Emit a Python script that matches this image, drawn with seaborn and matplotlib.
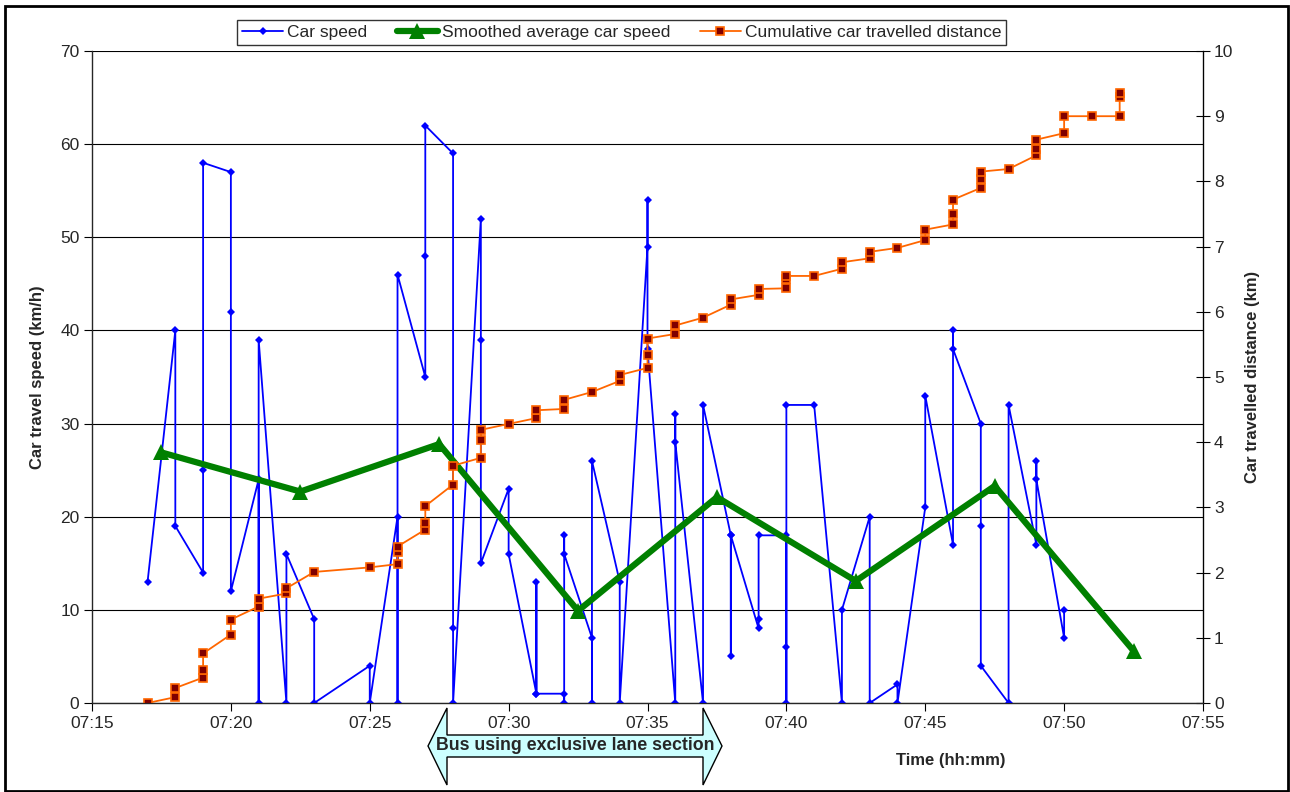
import numpy as np
import pandas as pd
import matplotlib
matplotlib.use('Agg')
import matplotlib.pyplot as plt
from matplotlib.patches import Polygon, Rectangle
from matplotlib.ticker import FuncFormatter, MultipleLocator
import seaborn as sns

sns.set_style("white")
plt.rcParams['font.family'] = ['Liberation Sans', 'DejaVu Sans']

# minute after 07:00 -> readings taken during that minute (in order)
speed_minutes = [17, 18, 19, 20, 21, 22, 23, 25, 26, 27, 28, 29, 30, 31, 32, 33, 34,
                 35, 36, 37, 38, 39, 40, 41, 42, 43, 44, 45, 46, 47, 48, 49, 50]
speed_values = [[13], [40, 19], [14, 25, 58], [57, 42, 12], [24, 0, 39], [0, 16], [9, 0],
                [4, 0], [20, 0, 46], [35, 48, 62], [59, 8, 0], [52, 39, 15], [23, 16],
                [1, 13, 1], [1, 0, 18, 16], [7, 0, 26], [13, 0], [49, 54, 38], [0, 31, 28],
                [0, 32], [18, 5, 18], [8, 9, 18], [18, 6, 0, 32], [32], [0, 10], [20, 0],
                [2, 0], [21, 33], [17, 40, 38], [30, 19, 4], [0, 32], [17, 26, 24], [7, 10]]

dist_minutes = [17, 18, 19, 20, 21, 22, 23, 25, 26, 27, 28, 29, 30, 31, 32, 33, 34,
                35, 36, 37, 38, 39, 40, 41, 42, 43, 44, 45, 46, 47, 48, 49, 50, 51, 52]
dist_values = [[0], [0.09, 0.23], [0.39, 0.51, 0.76], [1.05, 1.28], [1.48, 1.60], [1.68, 1.76],
               [2.01], [2.08], [2.13, 2.31, 2.40], [2.66, 2.76, 3.02], [3.35, 3.64],
               [3.76, 4.03, 4.19], [4.28], [4.37, 4.49], [4.51, 4.65], [4.77], [4.94, 5.03],
               [5.14, 5.33, 5.59], [5.66, 5.79], [5.91], [6.11, 6.19], [6.26, 6.35],
               [6.36, 6.50, 6.55], [6.55], [6.66, 6.76], [6.82, 6.92], [6.98], [7.10, 7.26],
               [7.34, 7.50, 7.72], [7.90, 8.04, 8.15], [8.19], [8.40, 8.50, 8.64],
               [8.74, 9.00], [9.00], [9.00, 9.29, 9.36]]

smooth_minutes = [17.5, 22.5, 27.5, 32.5, 37.5, 42.5, 47.5, 52.5]
smooth_speed = [26.9, 22.7, 27.8, 9.9, 22.1, 13.1, 23.3, 5.6]

speed_df = pd.DataFrame([(m, v) for m, vals in zip(speed_minutes, speed_values) for v in vals],
                        columns=['minute', 'speed'])
dist_df = pd.DataFrame([(m, v) for m, vals in zip(dist_minutes, dist_values) for v in vals],
                       columns=['minute', 'distance'])
smooth_df = pd.DataFrame({'minute': smooth_minutes, 'speed': smooth_speed})

W, H = 1290, 792
fig = plt.figure(figsize=(W / 100, H / 100), dpi=100)
ax = fig.add_axes([92 / W, 89 / H, (1203 - 92) / W, 652 / H])

sns.lineplot(data=speed_df, x='minute', y='speed', sort=False, estimator=None, ax=ax,
             color='#0000FF', lw=1.3, marker='D', markersize=3.8, markeredgewidth=0,
             legend=False, zorder=3)
sns.lineplot(data=smooth_df, x='minute', y='speed', sort=False, estimator=None, ax=ax,
             color='#008000', lw=4.5, marker='^', markersize=11, markeredgewidth=0,
             legend=False, zorder=4)

ax.set_xlim(15, 55)
ax.set_ylim(0, 70)
ax.xaxis.set_major_locator(MultipleLocator(5))
ax.yaxis.set_major_locator(MultipleLocator(10))
ax.xaxis.set_major_formatter(FuncFormatter(lambda m, p: f"07:{int(round(m)):02d}"))
ax.yaxis.grid(True, color='black', lw=0.8)
ax.xaxis.grid(False)
ax.set_xlabel('')
ax.set_ylabel('')
ax.tick_params(axis='both', direction='out', length=6, width=0.8, labelsize=12.5, pad=3,
               bottom=True, left=True, color='black')
for s in ['left', 'bottom', 'right']:
    ax.spines[s].set_color('black')
    ax.spines[s].set_linewidth(0.9)
ax.spines['top'].set_visible(False)

ax2 = ax.twinx()
sns.lineplot(data=dist_df, x='minute', y='distance', sort=False, estimator=None, ax=ax2,
             color='#FF6600', lw=1.3, marker='s', markersize=5.2, markerfacecolor='#800000',
             markeredgecolor='#FF6600', markeredgewidth=1.2, legend=False)
ax2.set_ylim(0, 10)
ax2.yaxis.set_major_locator(MultipleLocator(1))
ax2.set_ylabel('')
ax2.tick_params(axis='y', direction='inout', length=10, width=0.8, labelsize=12.5, pad=3,
                right=True, color='black')
ax2.spines['top'].set_visible(False)
ax2.spines['right'].set_color('black')

handles = [ax.lines[0], ax.lines[1], ax2.lines[0]]
labels = ['Car speed', 'Smoothed average car speed', 'Cumulative car travelled distance']
leg = fig.legend(handles, labels, loc='center', bbox_to_anchor=(621.5 / W, 1 - 32.5 / H),
                 ncol=3, frameon=True, fancybox=False, fontsize=12.5, handlelength=2.4,
                 handletextpad=0.2, columnspacing=1.7, borderpad=0.3, borderaxespad=0)
leg.get_frame().set_edgecolor('black')
leg.get_frame().set_linewidth(1.0)

fig.text(38 / W, 1 - 377 / H, 'Car travel speed (km/h)', rotation=90, ha='center',
         va='center', fontsize=12, fontweight='bold')
fig.text(1253 / W, 1 - 377 / H, 'Car travelled distance (km)', rotation=90, ha='center',
         va='center', fontsize=12, fontweight='bold')
fig.text(951 / W, 1 - 760 / H, 'Time (hh:mm)', ha='center', va='center', fontsize=12,
         fontweight='bold')

# block arrow marking the exclusive bus lane section
arrow_px = [(428, 746), (447, 708), (447, 735), (703, 735), (703, 708), (722, 746),
            (703, 785), (703, 757), (447, 757), (447, 785)]
arrow = Polygon([(x / W, 1 - y / H) for x, y in arrow_px], closed=True,
                transform=fig.transFigure, facecolor='#CCFFFF', edgecolor='black', lw=1.0)
fig.add_artist(arrow)
fig.text(575 / W, 1 - 746 / H, 'Bus using exclusive lane section', ha='center', va='center',
         fontsize=12.8, fontweight='bold')

fig.add_artist(Rectangle((5 / W, 1 / H), 1283 / W, 785 / H, transform=fig.transFigure,
                         fill=False, edgecolor='black', lw=2))

fig.savefig('out.png', dpi=100)
